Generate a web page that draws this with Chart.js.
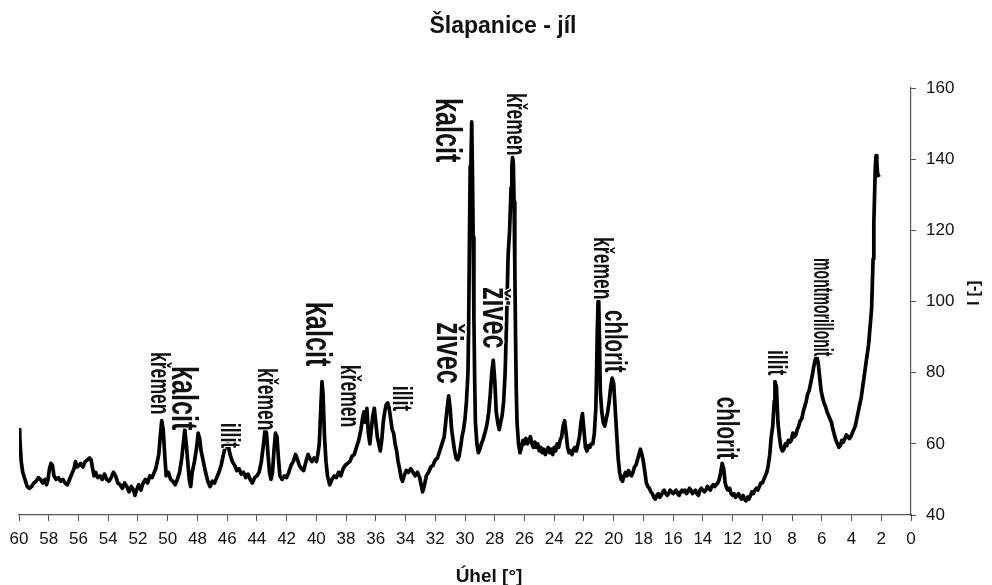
<!DOCTYPE html>
<html>
<head>
<meta charset="utf-8">
<title>Šlapanice - jíl</title>
<script src="https://cdn.jsdelivr.net/npm/chart.js@4.4.1/dist/chart.umd.min.js"></script>
<style>
  html, body { margin: 0; padding: 0; background: #fff; }
  #xrd { display: block; }
</style>
</head>
<body>
<canvas id="xrd" width="992" height="585"></canvas>
<script>
// diffraction angle (2theta, deg) and measured intensity
const angles = [
  60.0, 59.95, 59.85, 59.75, 59.6, 59.45, 59.3, 59.15, 59.0, 58.85, 58.7, 58.55, 58.4, 58.25, 58.15, 58.05,
  57.95, 57.85, 57.75, 57.65, 57.5, 57.35, 57.2, 57.05, 56.9, 56.75, 56.6, 56.45, 56.3, 56.2, 56.1, 55.95,
  55.85, 55.7, 55.55, 55.4, 55.25, 55.15, 55.05, 54.95, 54.85, 54.7, 54.55, 54.4, 54.25, 54.1, 53.95, 53.8,
  53.65, 53.5, 53.35, 53.2, 53.05, 52.9, 52.75, 52.6, 52.45, 52.3, 52.2, 52.1, 51.95, 51.8, 51.65, 51.5,
  51.35, 51.2, 51.05, 50.9, 50.8, 50.7, 50.6, 50.5, 50.4, 50.3, 50.2, 50.1, 49.95, 49.8, 49.65, 49.5,
  49.35, 49.2, 49.05, 48.95, 48.85, 48.75, 48.65, 48.55, 48.45, 48.35, 48.2, 48.05, 47.95, 47.85, 47.75, 47.6,
  47.45, 47.3, 47.15, 47.0, 46.85, 46.7, 46.55, 46.4, 46.25, 46.1, 45.95, 45.8, 45.65, 45.5, 45.35, 45.2,
  45.05, 44.9, 44.75, 44.6, 44.45, 44.3, 44.15, 44.0, 43.85, 43.7, 43.55, 43.45, 43.35, 43.25, 43.15, 43.05,
  42.95, 42.85, 42.75, 42.65, 42.55, 42.45, 42.3, 42.15, 42.0, 41.85, 41.7, 41.55, 41.4, 41.3, 41.15, 41.0,
  40.85, 40.7, 40.55, 40.45, 40.3, 40.15, 40.0, 39.9, 39.8, 39.7, 39.62, 39.55, 39.45, 39.35, 39.25, 39.1,
  38.95, 38.8, 38.65, 38.5, 38.35, 38.2, 38.05, 37.9, 37.75, 37.6, 37.45, 37.3, 37.15, 37.0, 36.9, 36.8,
  36.7, 36.6, 36.5, 36.4, 36.3, 36.2, 36.1, 36.0, 35.9, 35.8, 35.7, 35.6, 35.5, 35.4, 35.3, 35.2,
  35.1, 35.0, 34.9, 34.8, 34.7, 34.6, 34.5, 34.4, 34.3, 34.2, 34.1, 33.95, 33.8, 33.65, 33.5, 33.35,
  33.2, 33.05, 32.95, 32.85, 32.75, 32.6, 32.45, 32.3, 32.15, 32.0, 31.85, 31.7, 31.55, 31.4, 31.3, 31.2,
  31.1, 31.0, 30.9, 30.8, 30.7, 30.6, 30.5, 30.4, 30.3, 30.2, 30.1, 30.0, 29.9, 29.8, 29.75, 29.7,
  29.65, 29.6, 29.55, 29.5, 29.45, 29.4, 29.35, 29.3, 29.2, 29.1, 29.0, 28.9, 28.8, 28.7, 28.6, 28.5,
  28.4, 28.3, 28.2, 28.1, 28.0, 27.9, 27.8, 27.7, 27.6, 27.5, 27.4, 27.3, 27.2, 27.1, 27.0, 26.9,
  26.85, 26.8, 26.75, 26.7, 26.65, 26.6, 26.55, 26.5, 26.4, 26.3, 26.2, 26.1, 26.0, 25.9, 25.8, 25.7,
  25.6, 25.5, 25.4, 25.3, 25.2, 25.1, 25.0, 24.9, 24.8, 24.7, 24.6, 24.5, 24.4, 24.3, 24.2, 24.1,
  24.0, 23.9, 23.8, 23.7, 23.6, 23.5, 23.4, 23.3, 23.2, 23.1, 23.0, 22.9, 22.8, 22.7, 22.6, 22.5,
  22.4, 22.3, 22.2, 22.1, 22.0, 21.9, 21.8, 21.7, 21.6, 21.5, 21.4, 21.3, 21.2, 21.15, 21.1, 21.05,
  21.0, 20.95, 20.9, 20.8, 20.7, 20.6, 20.5, 20.4, 20.3, 20.2, 20.1, 20.0, 19.9, 19.8, 19.7, 19.6,
  19.5, 19.4, 19.3, 19.2, 19.1, 19.0, 18.9, 18.8, 18.7, 18.6, 18.5, 18.4, 18.3, 18.2, 18.1, 18.0,
  17.9, 17.8, 17.7, 17.6, 17.5, 17.4, 17.3, 17.2, 17.1, 17.0, 16.9, 16.8, 16.7, 16.6, 16.5, 16.4,
  16.3, 16.2, 16.1, 16.0, 15.9, 15.8, 15.7, 15.6, 15.5, 15.4, 15.3, 15.2, 15.1, 15.0, 14.9, 14.8,
  14.7, 14.6, 14.5, 14.4, 14.3, 14.2, 14.1, 14.0, 13.9, 13.8, 13.7, 13.6, 13.5, 13.4, 13.3, 13.2,
  13.1, 13.0, 12.9, 12.8, 12.7, 12.6, 12.5, 12.4, 12.3, 12.2, 12.1, 12.0, 11.9, 11.8, 11.7, 11.6,
  11.5, 11.4, 11.3, 11.2, 11.1, 11.0, 10.9, 10.8, 10.7, 10.6, 10.5, 10.4, 10.3, 10.2, 10.1, 10.0,
  9.9, 9.8, 9.7, 9.6, 9.5, 9.4, 9.3, 9.2, 9.15, 9.05, 8.95, 8.85, 8.75, 8.65, 8.55, 8.45,
  8.35, 8.25, 8.15, 8.05, 7.95, 7.85, 7.75, 7.65, 7.55, 7.45, 7.35, 7.25, 7.15, 7.05, 6.95, 6.85,
  6.75, 6.65, 6.55, 6.45, 6.35, 6.25, 6.15, 6.05, 5.95, 5.85, 5.75, 5.65, 5.55, 5.45, 5.35, 5.25,
  5.15, 5.05, 4.95, 4.85, 4.75, 4.65, 4.55, 4.45, 4.35, 4.25, 4.15, 4.05, 3.95, 3.85, 3.75, 3.65,
  3.55, 3.45, 3.35, 3.25, 3.15, 3.05, 2.95, 2.85, 2.75, 2.65, 2.6, 2.55, 2.5, 2.45, 2.4, 2.35,
  2.3, 2.25, 2.15, 2.1
];

const intensity = [
  64, 62, 55, 52, 50, 48, 47.5, 48, 49, 49.5, 50.5, 50, 49, 50, 48.5, 50,
  53, 54.5, 54, 51, 50, 50.5, 49.5, 50, 49, 48.5, 50, 51.5, 53, 55, 53.5, 54,
  54.5, 53.5, 55, 55.5, 56, 55.5, 53, 51, 52, 50.5, 51, 50, 51.5, 50, 49.5, 50.5,
  52, 51, 49, 48.5, 47.5, 49, 48, 46.5, 48, 47, 45.5, 47, 48.5, 47, 49, 50,
  49, 51, 50.5, 52, 53, 55, 57, 62, 66.5, 64, 57, 51, 52, 50, 49.5, 48.5,
  50, 52, 56, 60, 64, 60, 55, 50, 48, 52, 55, 59, 63, 61.5, 58, 55,
  52, 49.5, 48, 49.5, 49, 50.5, 52, 54, 57, 59.5, 60, 57, 55, 54, 52.5, 53,
  51.5, 52, 50.5, 51.5, 50, 49, 50.5, 51, 52, 55, 60, 64, 63, 57, 52, 50,
  52, 58, 63, 62, 56, 51, 50, 51, 50.5, 52, 54, 55, 57, 56, 54, 53,
  52.5, 55, 57, 56, 55, 56, 55, 57, 60, 70, 77.5, 74, 62, 55, 51, 48.5,
  50, 51, 50.5, 52, 51, 53, 54, 54.5, 55, 56.5, 57, 59, 61, 64, 67, 69,
  66, 70, 63, 60, 64, 68, 70, 66, 62, 60, 58, 61, 66, 69, 71, 71.5,
  70, 67, 64, 63, 60, 58, 55, 53, 50.5, 49.5, 51, 52.5, 52, 53, 52, 51,
  52, 50.5, 48.5, 46.5, 48, 51, 52, 53.5, 54, 55.5, 56, 58, 60, 62, 66, 70,
  73.5, 70, 64, 61, 58, 56, 55.5, 56.5, 59, 62, 64, 67, 72, 80, 95, 118,
  138, 139, 150.5, 137, 118, 95, 78, 66, 60, 57.5, 58.5, 60, 61, 62.5, 64, 66,
  69, 74, 80, 83.5, 78, 69, 66, 64, 66, 68, 72, 80, 95, 113, 120, 132,
  138, 140.5, 139, 128, 110, 90, 75, 66, 60, 57.5, 59, 61, 60, 61.5, 60, 61,
  62, 60, 59, 60.5, 59, 60, 58, 59, 57.5, 58.5, 57, 58, 59, 57.5, 58.5, 57,
  59, 58, 60, 59, 61, 62, 65, 66.5, 63, 59, 57.5, 58, 57, 58.5, 59, 58,
  60, 62, 66, 68.5, 64, 59, 58, 59.5, 59, 60, 60, 63, 70, 80, 92, 100,
  99, 88, 75, 69, 66, 65, 67, 69, 72, 76, 78.5, 77, 70, 63, 56, 52,
  50, 49.5, 51, 52, 51, 52.5, 51.5, 51, 52, 53.5, 54, 55.5, 57, 58.5, 57, 55,
  52, 49, 48, 47.5, 46.5, 46, 45, 44.5, 45.5, 46, 45, 45.5, 46.5, 47, 46, 45.5,
  46, 47, 46.5, 46, 46.5, 47, 46, 45.5, 46.5, 47, 46.5, 47, 46, 46.5, 47.5, 47,
  46, 46.5, 47, 46, 45.5, 47, 47.5, 47, 46.5, 47, 48, 47.5, 47, 48, 48.5, 48,
  48.5, 49, 50, 52, 54.5, 53, 49, 47.5, 47, 47.5, 46, 45.5, 46, 45, 45.5, 46,
  45, 44.5, 45.5, 44.5, 44, 45, 44.5, 45.5, 46.5, 46, 47, 47.5, 47, 48, 49, 49,
  50, 51, 52, 54, 57, 62, 65, 72, 77.5, 76, 66, 62, 59, 58, 58.5, 60,
  59.5, 61, 60.5, 61, 63, 62, 62.5, 64, 65, 66.5, 67, 69, 70.5, 72, 74, 75,
  77, 79, 81.5, 83.5, 84.5, 83, 79, 75, 73, 71.5, 70.5, 69, 68, 67, 66, 64,
  62.5, 61, 60, 59, 59.5, 61, 60.5, 61.5, 62.5, 62, 61.5, 62, 63, 64, 65, 67,
  69, 71, 73, 76, 79, 82, 85, 88, 93, 98, 105, 112, 122, 130, 138, 141,
  139.5, 136, 135, 135
];

// mineral labels: name, angle of the peak, intensity where the label starts
const peakNames  = ['křemen', 'kalcit', 'illit', 'křemen', 'kalcit', 'křemen', 'illit', 'živec',
                    'kalcit', 'křemen', 'živec', 'křemen', 'chlorit', 'chlorit', 'illit', 'montmorillonit'];
const peakAngles = [50.65, 49.04, 45.94, 43.39, 40.03, 37.81, 34.31, 31.22,
                    31.28, 26.64, 28.12, 20.79, 19.99, 12.45, 9.09, 6.0];
const peakLevels = [85.8, 81.9, 65.9, 81.3, 99.9, 82.2, 76.3, 94.2,
                    157.2, 158.6, 104.1, 118.1, 97.6, 73.2, 86.4, 112.2];

const angleTicks = [60, 58, 56, 54, 52, 50, 48, 46, 44, 42, 40, 38, 36, 34, 32, 30,
                    28, 26, 24, 22, 20, 18, 16, 14, 12, 10, 8, 6, 4, 2, 0];
const intensityTicks = [40, 60, 80, 100, 120, 140, 160];

const points = angles.map((a, i) => ({ x: a, y: intensity[i] }));

function peakFont(name) {
  if (name === 'kalcit' || name === 'živec') return { size: 36, squeeze: 0.7 };
  if (name === 'chlorit') return { size: 31, squeeze: 0.66 };
  if (name === 'montmorillonit') return { size: 27, squeeze: 0.52 };
  return { size: 27, squeeze: 0.65 };
}

// vertical mineral names above the peaks
const peakLabels = {
  id: 'peakLabels',
  afterDatasetsDraw(chart) {
    const { ctx, scales } = chart;
    peakNames.forEach((name, i) => {
      const f = peakFont(name);
      const px = scales.x.getPixelForValue(peakAngles[i]);
      const py = scales.y.getPixelForValue(peakLevels[i]);
      ctx.save();
      ctx.translate(px, py);
      ctx.rotate(Math.PI / 2);
      ctx.scale(f.squeeze, 1);
      ctx.font = `bold ${f.size}px 'Liberation Sans', Arial, sans-serif`;
      ctx.textAlign = 'left';
      ctx.textBaseline = 'middle';
      ctx.lineWidth = 3;
      ctx.strokeStyle = '#fff';
      ctx.strokeText(name, 0, 0);
      ctx.fillStyle = '#111';
      ctx.fillText(name, 0, 0);
      ctx.restore();
    });
  }
};

// chart title and axis titles
const titles = {
  id: 'titles',
  afterDraw(chart) {
    const ctx = chart.ctx;
    ctx.save();
    ctx.fillStyle = '#111';
    ctx.textAlign = 'center';
    ctx.textBaseline = 'alphabetic';
    ctx.font = "bold 23px 'Liberation Sans', Arial, sans-serif";
    ctx.fillText('Šlapanice - jíl', 503, 33);
    ctx.font = "bold 19px 'Liberation Sans', Arial, sans-serif";
    ctx.fillText('Úhel [°]', 489, 582);
    ctx.translate(975, 293);
    ctx.rotate(-Math.PI / 2);
    ctx.textBaseline = 'middle';
    ctx.font = "bold 16px 'Liberation Sans', Arial, sans-serif";
    ctx.fillText('I [-]', 0, 0);
    ctx.restore();
  }
};

new Chart(document.getElementById('xrd'), {
  type: 'line',
  data: {
    datasets: [{
      data: points,
      borderColor: '#000',
      borderWidth: 3.7,
      borderJoinStyle: 'round',
      pointRadius: 0,
      tension: 0,
      fill: false
    }]
  },
  options: {
    responsive: false,
    animation: false,
    devicePixelRatio: 1,
    layout: { padding: { left: 19, top: 88, right: 0, bottom: 0 } },
    plugins: { legend: { display: false }, tooltip: { enabled: false } },
    scales: {
      x: {
        type: 'linear',
        reverse: true,
        min: 0,
        max: 60,
        afterBuildTicks: s => { s.ticks = angleTicks.map(v => ({ value: v })); },
        afterFit: s => { s.height = 70; },
        grid: { drawOnChartArea: false, tickLength: 6, color: '#555' },
        border: { color: '#555', width: 1.2 },
        ticks: {
          autoSkip: false,
          maxRotation: 0,
          padding: 8,
          color: '#111',
          font: { family: "'Liberation Sans Narrow', 'Liberation Sans', Arial, sans-serif", size: 17 }
        }
      },
      y: {
        position: 'right',
        min: 40,
        max: 160,
        afterBuildTicks: s => { s.ticks = intensityTicks.map(v => ({ value: v })); },
        afterFit: s => { s.width = 81; },
        grid: { drawOnChartArea: false, tickLength: 5, color: '#555' },
        border: { color: '#555', width: 1.2 },
        ticks: {
          padding: 10,
          color: '#111',
          font: { family: "'Liberation Sans', Arial, sans-serif", size: 17 }
        }
      }
    }
  },
  plugins: [peakLabels, titles]
});
</script>
</body>
</html>
